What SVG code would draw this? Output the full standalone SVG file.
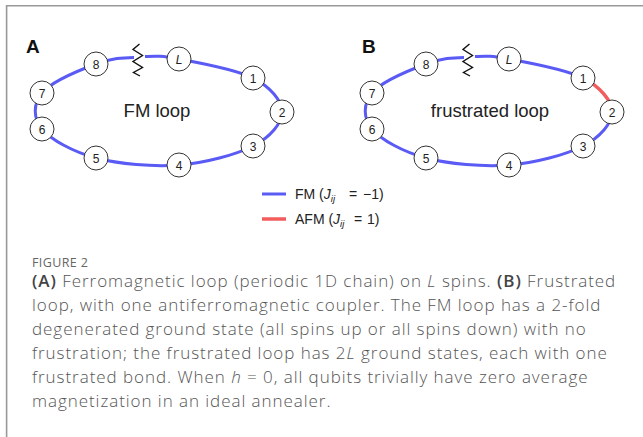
<svg xmlns="http://www.w3.org/2000/svg" width="643" height="437" viewBox="0 0 643 437">
  <style>
    .frame { fill: none; stroke: #999; stroke-width: 1.6; }
    .fm { fill: none; stroke: #5a5af5; stroke-width: 3; stroke-linecap: butt; }
    .afm { fill: none; stroke: #f25c5c; stroke-width: 3.5; stroke-linecap: butt; }
    .spring { fill: none; stroke: #111; stroke-width: 1.4; stroke-linejoin: miter; }
    .spin circle { fill: #fff; stroke: #333; stroke-width: 1; }
    .spin text { font-family: "Liberation Sans", Arial, sans-serif; font-size: 12px; fill: #222; text-anchor: middle; }
    .panel { font-family: "Liberation Sans", Arial, sans-serif; font-size: 19px; font-weight: bold; fill: #111; }
    .title { font-family: "Liberation Sans", Arial, sans-serif; font-size: 18.5px; fill: #222; text-anchor: middle; }
    .legend { font-family: "Liberation Sans", Arial, sans-serif; font-size: 14px; fill: #222; }
    .fig { font-family: "Open Sans", "Liberation Sans", sans-serif; font-size: 12.5px; fill: #666; letter-spacing: 0.4px; }
    .cap { font-family: "Open Sans", "Liberation Sans", sans-serif; font-size: 17px; font-weight: 300; fill: #555; letter-spacing: 0.95px; }
    .cap .b { font-weight: 600; fill: #444; }
  </style>
  <defs>
    <!-- cut in the chain, marking the periodic boundary -->
    <polyline id="cut" class="spring" points="139.5,44 133,49.5 142.5,55.5 133,61.5 142.5,67.5 133.5,72.5 140,76"/>
  </defs>

  <!-- card frame -->
  <path class="frame" d="M6.6,437 V5.8 H643"/>

  <!-- panel A: ferromagnetic loop -->
  <g id="panelA">
    <text class="panel" x="26" y="53">A</text>
    <g id="connectorsA">
      <path class="fm" d="M145,56.5 C156,56 160,55.5 179,59 C198,62.5 235.8,69.2 253,78"/>
      <path class="fm" d="M253,78 C270.2,86.8 282,100.7 282,112"/>
      <path class="fm" d="M282,112 C282,123.3 270.2,137.2 253,146 C235.8,154.8 205.2,163 179,165 C152.8,167 118.8,164 96,158 C73.2,152 51,139.8 42,129 C33,118.2 33,103.8 42,93 C51,82.2 79.8,70 96,64 C112.2,58 123,57.6 134,57.4"/>
      <use href="#cut"/>
    </g>
    <text class="title" x="157" y="117">FM loop</text>
    <g id="A_L" class="spin"><circle cx="179" cy="59" r="12"/><text x="179" y="63.5" font-style="italic">L</text></g>
    <g id="A_1" class="spin"><circle cx="253" cy="78" r="12"/><text x="253" y="82.5">1</text></g>
    <g id="A_2" class="spin"><circle cx="282" cy="112" r="12"/><text x="282" y="116.5">2</text></g>
    <g id="A_3" class="spin"><circle cx="253" cy="146" r="12"/><text x="253" y="150.5">3</text></g>
    <g id="A_4" class="spin"><circle cx="179" cy="165" r="12"/><text x="179" y="169.5">4</text></g>
    <g id="A_5" class="spin"><circle cx="96" cy="158" r="12"/><text x="96" y="162.5">5</text></g>
    <g id="A_6" class="spin"><circle cx="42" cy="129" r="12"/><text x="42" y="133.5">6</text></g>
    <g id="A_7" class="spin"><circle cx="42" cy="93" r="12"/><text x="42" y="97.5">7</text></g>
    <g id="A_8" class="spin"><circle cx="96" cy="64" r="12"/><text x="96" y="68.5">8</text></g>
  </g>

  <!-- panel B: frustrated loop (same geometry, one AFM bond) -->
  <g id="panelB" transform="translate(330,0)">
    <text class="panel" x="32" y="53">B</text>
    <g id="connectorsB">
      <path class="fm" d="M145,56.5 C156,56 160,55.5 179,59 C198,62.5 235.8,69.2 253,78"/>
      <path class="afm" d="M253,78 C270.2,86.8 282,100.7 282,112"/>
      <path class="fm" d="M282,112 C282,123.3 270.2,137.2 253,146 C235.8,154.8 205.2,163 179,165 C152.8,167 118.8,164 96,158 C73.2,152 51,139.8 42,129 C33,118.2 33,103.8 42,93 C51,82.2 79.8,70 96,64 C112.2,58 123,57.6 134,57.4"/>
      <use href="#cut"/>
    </g>
    <text class="title" x="160" y="117">frustrated loop</text>
    <g id="B_L" class="spin"><circle cx="179" cy="59" r="12"/><text x="179" y="63.5" font-style="italic">L</text></g>
    <g id="B_1" class="spin"><circle cx="253" cy="78" r="12"/><text x="253" y="82.5">1</text></g>
    <g id="B_2" class="spin"><circle cx="282" cy="112" r="12"/><text x="282" y="116.5">2</text></g>
    <g id="B_3" class="spin"><circle cx="253" cy="146" r="12"/><text x="253" y="150.5">3</text></g>
    <g id="B_4" class="spin"><circle cx="179" cy="165" r="12"/><text x="179" y="169.5">4</text></g>
    <g id="B_5" class="spin"><circle cx="96" cy="158" r="12"/><text x="96" y="162.5">5</text></g>
    <g id="B_6" class="spin"><circle cx="42" cy="129" r="12"/><text x="42" y="133.5">6</text></g>
    <g id="B_7" class="spin"><circle cx="42" cy="93" r="12"/><text x="42" y="97.5">7</text></g>
    <g id="B_8" class="spin"><circle cx="96" cy="64" r="12"/><text x="96" y="68.5">8</text></g>
  </g>

  <!-- legend -->
  <g id="legend">
    <line class="fm" x1="262" y1="194" x2="286" y2="194" stroke-width="3.5"/>
    <text class="legend" x="295" y="199">FM (<tspan font-style="italic">J</tspan><tspan font-style="italic" font-size="9.5" dy="3">ij</tspan><tspan x="349" dy="-3">=</tspan><tspan x="363">−1)</tspan></text>
    <line class="afm" x1="262" y1="219" x2="286" y2="219"/>
    <text class="legend" x="295" y="224">AFM (<tspan font-style="italic">J</tspan><tspan font-style="italic" font-size="9.5" dy="3">ij</tspan><tspan x="354" dy="-3">=</tspan><tspan x="367">1)</tspan></text>
  </g>

  <!-- caption -->
  <g id="caption">
    <text class="fig" x="32" y="266.5">FIGURE 2</text>
    <text class="cap" x="32" y="287"><tspan class="b">(A)</tspan> Ferromagnetic loop (periodic 1D chain) on <tspan font-style="italic">L</tspan> spins. <tspan class="b">(B)</tspan> Frustrated</text>
    <text class="cap" x="32" y="311">loop, with one antiferromagnetic coupler. The FM loop has a 2-fold</text>
    <text class="cap" x="32" y="335">degenerated ground state (all spins up or all spins down) with no</text>
    <text class="cap" x="32" y="359">frustration; the frustrated loop has 2<tspan font-style="italic">L</tspan> ground states, each with one</text>
    <text class="cap" x="32" y="383">frustrated bond. When <tspan font-style="italic">h</tspan> = 0, all qubits trivially have zero average</text>
    <text class="cap" x="32" y="407">magnetization in an ideal annealer.</text>
  </g>
</svg>
